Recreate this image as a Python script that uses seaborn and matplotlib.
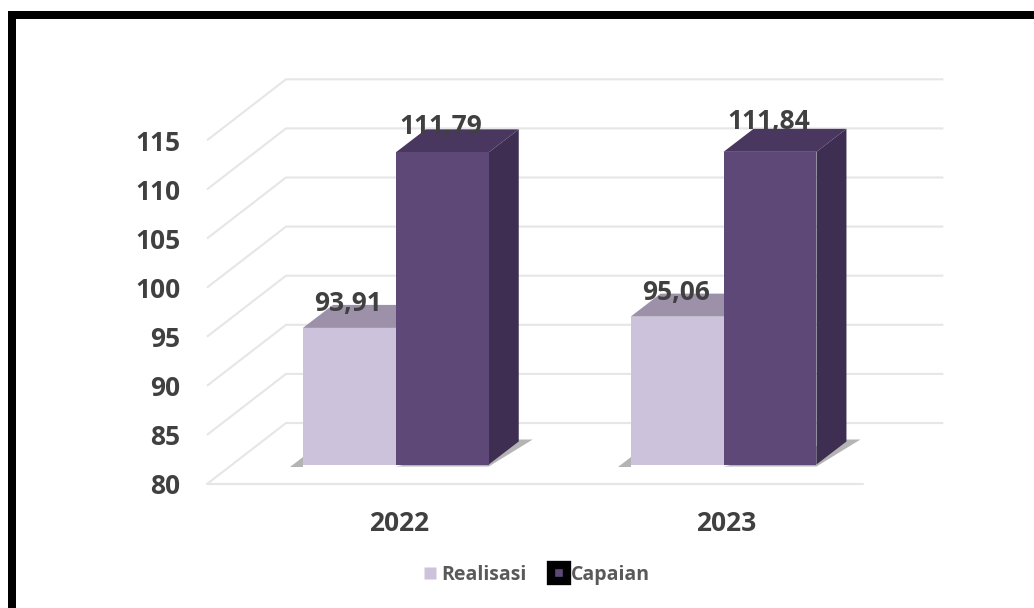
import matplotlib
matplotlib.use("Agg")
import matplotlib.pyplot as plt
from matplotlib.lines import Line2D
from matplotlib.patches import Polygon, Rectangle
from matplotlib.transforms import ScaledTranslation
import pandas as pd
import seaborn as sns

# Chart data
years = ["2022", "2023"]
realisasi = [93.91, 95.06]
capaian = [111.79, 111.84]
realisasi_labels = ["93,91", "95,06"]
capaian_labels = ["111,79", "111,84"]
y_ticks = [80, 85, 90, 95, 100, 105, 110, 115]

# Colours
FRONT = {"Realisasi": "#CCC2DB", "Capaian": "#5E4878"}
TOP = {"Realisasi": "#9D91A9", "Capaian": "#49375F"}
SIDE = {"Realisasi": "#8F8499", "Capaian": "#3E2F52"}
GRID = "#E6E6E6"
TEXT = "#404040"
LEGEND_TEXT = "#595959"
SHADOW = "#B4B4B4"

W, H = 1034, 608
DPI = 100
FONT = "Open Sans"

sns.set_theme(style="white")
plt.rcParams["font.family"] = [FONT, "DejaVu Sans"]

fig = plt.figure(figsize=(W / DPI, H / DPI), dpi=DPI, facecolor="white")

# The axes is the plane the bar fronts stand on; the walls of the 3-D box sit
# in front of and behind it.
LEFT, RIGHT, BASE, UNIT = 232, 887.4, 464.5, 9.82
ax = fig.add_axes([LEFT / W, 1 - BASE / H, (RIGHT - LEFT) / W, 35 * UNIT / H])
ax.patch.set_visible(False)

df = pd.DataFrame({
    "year": years * 2,
    "series": ["Realisasi"] * 2 + ["Capaian"] * 2,
    "value": realisasi + capaian,
})
sns.barplot(data=df, x="year", y="value", hue="series", palette=FRONT,
            width=0.567, gap=0, saturation=1, legend=False, ax=ax, zorder=3,
            linewidth=0)
ax.set_xlim(-0.5, 1.5)
ax.set_ylim(80, 115)
ax.set_xlabel("")
ax.set_ylabel("")
sns.despine(ax=ax, left=True, bottom=True)

# Pixel distances converted to data units
px_x = 2 / (RIGHT - LEFT)
px_y = 1 / UNIT
XMIN, XMAX = ax.get_xlim()

# Box gridlines: front edge, slanted side wall, back wall
front_dx, front_dy = -25 * px_x, -19.5 * px_y
back_dx, back_dy = 54 * px_x, 41.5 * px_y
for v in y_ticks:
    ax.plot([XMIN + front_dx, XMIN + back_dx, XMAX + back_dx + 2 * px_x],
            [v + front_dy, v + back_dy, v + back_dy],
            color=GRID, lw=1.5, clip_on=False, zorder=1,
            solid_capstyle="butt")
ax.plot([XMIN + front_dx, XMAX + front_dx + px_x],
        [80 + front_dy, 80 + front_dy],
        color=GRID, lw=1.5, clip_on=False, zorder=1)

# Depth faces and floor shadows built from the seaborn bars
depth_x, depth_y = 30 * px_x, 23 * px_y
series_order = ["Realisasi", "Realisasi", "Capaian", "Capaian"]
bars = [p for p in ax.patches if isinstance(p, Rectangle)]
for bar, name in zip(bars, series_order):
    x0 = bar.get_x()
    x1 = x0 + bar.get_width()
    top = bar.get_y() + bar.get_height()
    ax.add_patch(Polygon(
        [(x0, top), (x1, top), (x1 + depth_x, top + depth_y),
         (x0 + depth_x, top + depth_y)],
        closed=True, fc=TOP[name], ec="none", clip_on=False, zorder=2))
    ax.add_patch(Polygon(
        [(x1, 80), (x1 + depth_x, 80 + depth_y),
         (x1 + depth_x, top + depth_y), (x1, top)],
        closed=True, fc=SIDE[name], ec="none", clip_on=False, zorder=2))
    if name == "Realisasi":
        ax.add_patch(Polygon(
            [(x0 - 13 * px_x, 80 - 2 * px_y), (x0, 80 - 2 * px_y),
             (x0, 80 + 8 * px_y)],
            closed=True, fc=SHADOW, ec="none", clip_on=False, zorder=1.5))
    else:
        ax.add_patch(Polygon(
            [(x0, 80 - 2 * px_y), (x1, 80 - 2 * px_y),
             (x1 + 44 * px_x, 80 + 25 * px_y), (x1 + depth_x, 80 + 25 * px_y)],
            closed=True, fc=SHADOW, ec="none", clip_on=False, zorder=1.5))

# Value labels
labels = realisasi_labels + capaian_labels
lifts = [24, 24, 26, 30]
for bar, text, lift in zip(bars, labels, lifts):
    ax.annotate(text,
                (bar.get_x() + bar.get_width() / 2, bar.get_y() + bar.get_height()),
                xytext=(-1, lift * 72 / DPI), textcoords="offset points",
                ha="center", va="center", fontsize=19, fontweight="bold",
                color=TEXT, zorder=5, annotation_clip=False)

# Axis labels
ax.set_yticks(y_ticks)
ax.tick_params(axis="y", length=0, pad=37, labelsize=19, labelcolor=TEXT)
ax.tick_params(axis="x", length=0, pad=33, labelsize=19, labelcolor=TEXT)
for lab in ax.get_yticklabels():
    lab.set_fontweight("bold")
    lab.set_transform(lab.get_transform() + ScaledTranslation(0, -19.5 / DPI, fig.dpi_scale_trans))
for lab in ax.get_xticklabels():
    lab.set_fontweight("bold")
    lab.set_transform(lab.get_transform() + ScaledTranslation(3 / DPI, 0, fig.dpi_scale_trans))

# Legend
handles = [
    Line2D([], [], ls="", marker="s", ms=9, mfc=FRONT["Realisasi"], mec="none"),
    Line2D([], [], ls="", marker="s", ms=11, mfc=FRONT["Capaian"], mec="black", mew=6),
]
leg = fig.legend(handles, ["Realisasi", "Capaian"], ncol=2, frameon=False,
                 loc="center", bbox_to_anchor=(534 / W, 1 - 575 / H),
                 prop={"family": FONT, "weight": "bold", "size": 14},
                 handletextpad=0.0, columnspacing=1.05, handlelength=1.2,
                 labelcolor=LEGEND_TEXT)

# Heavy frame along the top and left edges
fig.add_artist(Rectangle((8 / W, 1 - 19 / H), 1, 8 / H, transform=fig.transFigure,
                         fc="black", ec="none"))
fig.add_artist(Rectangle((8 / W, 0), 8 / W, 1 - 11 / H, transform=fig.transFigure,
                         fc="black", ec="none"))

fig.savefig("out.png", dpi=DPI, facecolor="white")
